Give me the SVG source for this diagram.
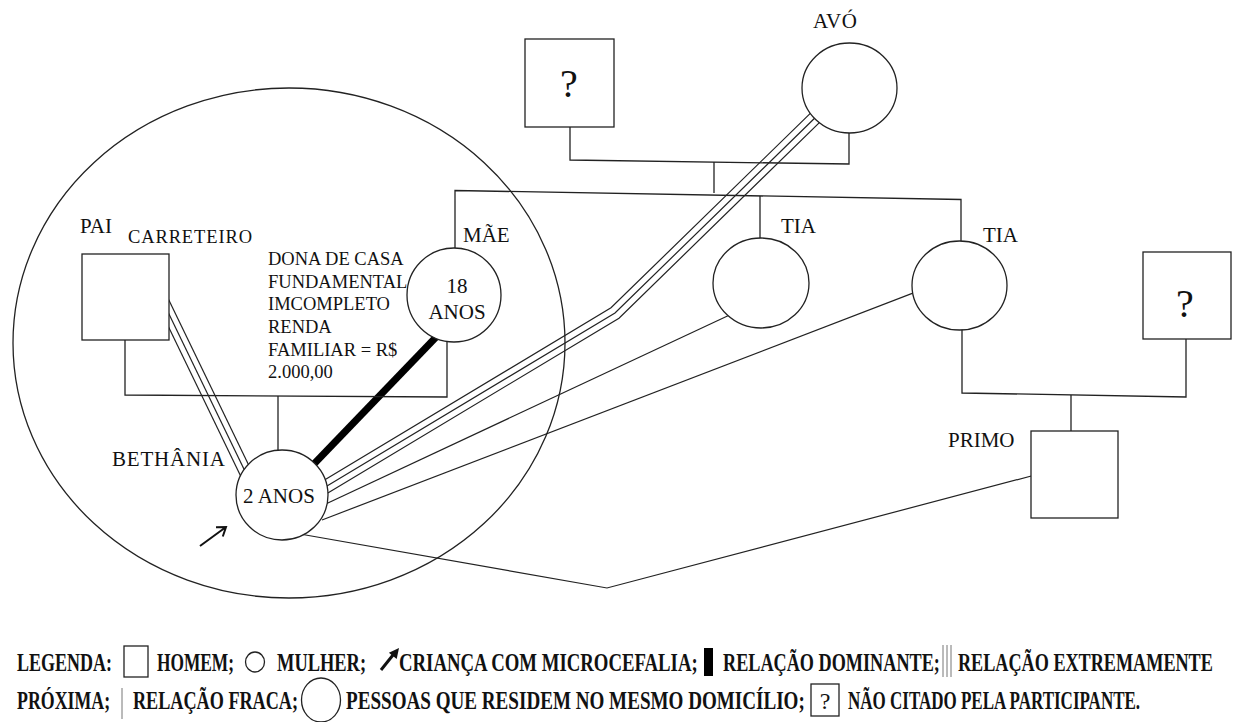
<svg xmlns="http://www.w3.org/2000/svg" width="1234" height="722" viewBox="0 0 1234 722">
  <style>
    .ln { fill: none; stroke: #222; stroke-width: 1.3; }
    .rel { fill: none; stroke: #222; stroke-width: 1.2; }
    .nd { fill: #fff; stroke: #222; stroke-width: 1.3; }
    .t { font-family: "Liberation Serif", "Times New Roman", serif; fill: #111; }
    .lbl { font-size: 21px; }
    .info { font-size: 18.5px; }
    .q { font-size: 40px; }
    .leg { font-size: 26px; font-weight: bold; }
  </style>
  <rect width="1234" height="722" fill="#fff"/>

  <!-- relationship lines (drawn first so nodes cover their ends) -->
  <g id="connectors">
    <!-- very close: father - child -->
    <path class="rel" d="M164.6,291.2 L249.5,466.7"/>
    <path class="rel" d="M164.6,305 L247.3,476"/>
    <path class="rel" d="M164.6,318.8 L245.1,485.3"/>
    <!-- very close: child - grandmother -->
    <path class="rel" d="M318.65,483.43 L611,307.8 L817.46,106.35"/>
    <path class="rel" d="M322,489 L615,313 L822,111"/>
    <path class="rel" d="M325.35,494.57 L619,318.2 L826.54,115.65"/>
    <!-- weak: child - aunts, child - cousin -->
    <path class="rel" d="M322,505.7 L728,315.8"/>
    <path class="rel" d="M322,520 L920,290.4"/>
    <path class="rel" d="M300,534 L607,588 L1035,475"/>
    <!-- dominant: mother - child -->
    <path d="M440,333 L312,466" fill="none" stroke="#000" stroke-width="7"/>

    <!-- kinship lines -->
    <path class="ln" d="M570,127 V160 L849,164 V130"/>
    <path class="ln" d="M714,162 V193"/>
    <path class="ln" d="M455,250 V190.5 L961,199.5 V243"/>
    <path class="ln" d="M760,195.9 V240"/>
    <path class="ln" d="M962,328 V393 L1186,397 V339"/>
    <path class="ln" d="M1071,395 V431"/>
    <path class="ln" d="M125,340 V395 L447,397 V338"/>
    <path class="ln" d="M278,396 V452"/>
  </g>

  <!-- household boundary -->
  <ellipse id="household" cx="289" cy="343" rx="276" ry="255" fill="none" stroke="#222" stroke-width="1.3"/>

  <g id="grandfather">
    <rect class="nd" x="525" y="39" width="89" height="88"/>
    <text class="t q" x="569" y="97" text-anchor="middle">?</text>
  </g>

  <g id="grandmother">
    <ellipse class="nd" cx="849.5" cy="88" rx="47.5" ry="45"/>
    <text class="t lbl" x="813" y="28" textLength="44">AVÓ</text>
  </g>

  <g id="father">
    <rect class="nd" x="82" y="254" width="87" height="86"/>
    <text class="t lbl" x="80" y="233">PAI</text>
    <text class="t info" x="128" y="243" textLength="124">CARRETEIRO</text>
  </g>

  <g id="mother">
    <ellipse class="nd" cx="454" cy="295" rx="47" ry="47"/>
    <text class="t lbl" x="457" y="293" text-anchor="middle">18</text>
    <text class="t lbl" x="457" y="319" text-anchor="middle">ANOS</text>
    <text class="t lbl" x="463" y="242">MÃE</text>
    <text class="t info" x="268" y="265">DONA DE CASA</text>
    <text class="t info" x="268" y="288">FUNDAMENTAL</text>
    <text class="t info" x="268" y="310">IMCOMPLETO</text>
    <text class="t info" x="268" y="333">RENDA</text>
    <text class="t info" x="268" y="356">FAMILIAR = R$</text>
    <text class="t info" x="268" y="378">2.000,00</text>
  </g>

  <g id="aunt1">
    <ellipse class="nd" cx="761" cy="283" rx="48" ry="45"/>
    <text class="t lbl" x="781" y="233">TIA</text>
  </g>

  <g id="aunt2">
    <ellipse class="nd" cx="959.5" cy="285.5" rx="47.5" ry="44.5"/>
    <text class="t lbl" x="983" y="242">TIA</text>
  </g>

  <g id="uncle">
    <rect class="nd" x="1143" y="252" width="88" height="87"/>
    <text class="t q" x="1185" y="317" text-anchor="middle">?</text>
  </g>

  <g id="cousin">
    <rect class="nd" x="1031" y="431" width="87" height="87"/>
    <text class="t lbl" x="948" y="447">PRIMO</text>
  </g>

  <g id="child">
    <ellipse class="nd" cx="282" cy="495" rx="46" ry="45"/>
    <text class="t lbl" x="279" y="503" text-anchor="middle">2 ANOS</text>
    <text class="t lbl" x="112" y="466" textLength="113">BETHÂNIA</text>
    <path d="M200,546 L226,527 M216,527.2 L226,527 L222.8,536.5" fill="none" stroke="#111" stroke-width="2"/>
  </g>

  <!-- key: condensed bold text -->
  <g id="legend">
    <text class="t leg" transform="translate(17,671) scale(0.692,1)">LEGENDA:</text>
    <rect x="124" y="646" width="24" height="31" fill="#fff" stroke="#222" stroke-width="1.3"/>
    <text class="t leg" transform="translate(157,671) scale(0.667,1)">HOMEM;</text>
    <ellipse cx="255" cy="662" rx="9.5" ry="10" fill="#fff" stroke="#222" stroke-width="1.3"/>
    <text class="t leg" transform="translate(277,671) scale(0.709,1)">MULHER;</text>
    <path d="M381,670 L393,655" fill="none" stroke="#111" stroke-width="3"/>
    <polygon points="399,648 396.7,659 388.9,652.8" fill="#111"/>
    <text class="t leg" transform="translate(399,671) scale(0.722,1)">CRIANÇA COM MICROCEFALIA;</text>
    <rect x="704" y="648" width="9" height="28" fill="#000"/>
    <text class="t leg" transform="translate(723,671) scale(0.700,1)">RELAÇÃO DOMINANTE;</text>
    <path d="M943,645 V677 M947,645 V677 M951,645 V677" fill="none" stroke="#777" stroke-width="1"/>
    <text class="t leg" transform="translate(958,671) scale(0.699,1)">RELAÇÃO EXTREMAMENTE</text>

    <text class="t leg" transform="translate(17,709) scale(0.686,1)">PRÓXIMA;</text>
    <path d="M122,688 V719" fill="none" stroke="#777" stroke-width="1"/>
    <text class="t leg" transform="translate(133,709) scale(0.699,1)">RELAÇÃO FRACA;</text>
    <ellipse cx="321" cy="700" rx="19.5" ry="22" fill="#fff" stroke="#222" stroke-width="1.3"/>
    <text class="t leg" transform="translate(346,709) scale(0.735,1)">PESSOAS QUE RESIDEM NO MESMO DOMICÍLIO;</text>
    <rect x="811" y="684" width="28" height="32" fill="#fff" stroke="#222" stroke-width="1.3"/>
    <text class="t" x="825" y="709" font-size="24" text-anchor="middle">?</text>
    <text class="t leg" transform="translate(848,709) scale(0.654,1)">NÃO CITADO PELA PARTICIPANTE.</text>
  </g>
</svg>
